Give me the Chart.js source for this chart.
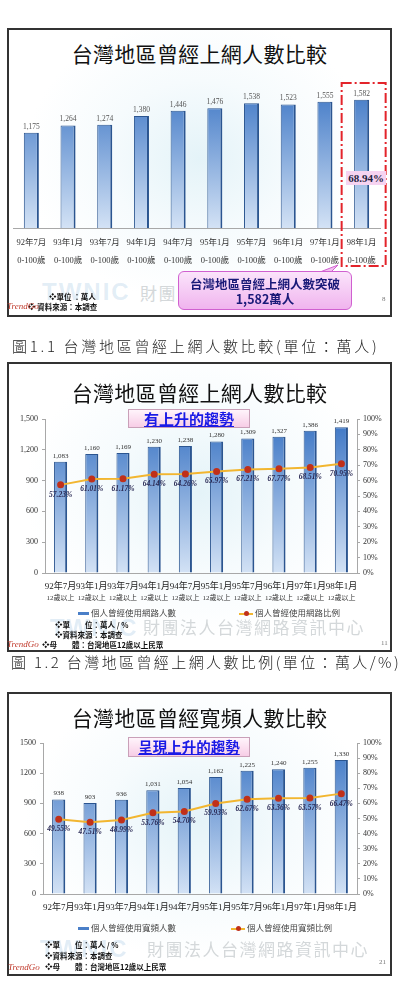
<!DOCTYPE html>
<html>
<head>
<meta charset="utf-8">
<script src="https://cdn.jsdelivr.net/npm/chart.js@4.4.0/dist/chart.umd.min.js"></script>
<style>
body { margin: 0; width: 399px; height: 986px; position: relative; background: #fff; overflow: hidden;
       font-family: 'Noto Sans CJK TC', sans-serif; }
.abs { position: absolute; white-space: nowrap; }
.slide { position: absolute; left: 7px; width: 385px; box-sizing: border-box; border: 2px solid #333;
         background: radial-gradient(ellipse at 50% 45%, #e4f3f8 0%, #f6fbfd 35%, #fff 65%); }
.title { position: absolute; left: 7px; width: 385px; text-align: center; font-size: 21px; line-height: 26px;
         color: #111; letter-spacing: 0.3px; }
.caption { position: absolute; font-size: 15px; line-height: 20px; color: #222; font-weight: 300; white-space: nowrap; }
.note { position: absolute; font-size: 7.5px; font-weight: bold; color: #111; line-height: 10px; white-space: pre; }
.logo { position: absolute; font-family: 'Liberation Serif', serif; font-style: italic; font-size: 9px; color: #c0392b; }
.page { position: absolute; font-family: 'Liberation Serif', serif; font-size: 7px; color: #777; }
.wm { position: absolute; font-size: 17px; color: #d4d8da; letter-spacing: 1.5px; white-space: nowrap; }
.wmlogo { position: absolute; font-family: 'Liberation Sans', sans-serif; font-weight: bold; font-size: 24px;
          color: rgba(110, 165, 210, 0.2); letter-spacing: 2px; }
.trend { position: absolute; left: 128px; width: 122px; box-sizing: border-box; border: 1px solid #c9a0b8;
         background: linear-gradient(#fff4fb, #f7cde6); text-align: center; color: #1a1ae6; font-weight: bold;
         text-decoration: underline; }
.legend { position: absolute; font-size: 8.5px; color: #444; line-height: 10px; white-space: nowrap; }
.lg-bar { display: inline-block; width: 11px; height: 3px; background: #4a7fc8; vertical-align: middle; margin-right: 2px; }
.lg-line { display: inline-block; position: relative; width: 14px; height: 2px; background: #f2b630; vertical-align: middle; margin-right: 2px; }
.lg-line:after { content: ''; position: absolute; left: 5px; top: -1.5px; width: 5px; height: 5px; border-radius: 50%; background: #c0301a; }
canvas { position: absolute; }
</style>
</head>
<body>

<!-- slide 1 -->
<div class="slide" style="top:28px;height:289px;"></div>
<div class="wmlogo" style="left:42px;top:278px;">TWNIC</div>
<div class="wm" style="left:140px;top:280px;">財團</div>
<div class="title" style="top:40px;">台灣地區曾經上網人數比較</div>
<canvas id="chart1" width="382" height="200" style="left:8px;top:75px;"></canvas>
<div class="abs" style="left:346px;top:171px;width:40px;height:14px;background:#f6d3f1;font:bold 11px 'Liberation Serif',serif;color:#1e1e40;text-align:center;line-height:14px;">68.94%</div>
<svg class="abs" style="left:170px;top:258px;" width="190" height="60">
  <path d="M150 14 L168 7 L156 19 Z" fill="#f2c0ef" stroke="#d060d0" stroke-width="1"/>
</svg>
<div class="abs" style="left:178px;top:271px;width:174px;height:39px;box-sizing:border-box;border:1px solid #d060d0;border-radius:6px;background:linear-gradient(#fbe4fb,#f0b4ee);text-align:center;color:#1a1a78;font-weight:bold;font-size:12.5px;line-height:15px;padding-top:4px;">台灣地區曾經上網人數突破<br>1,582萬人</div>
<div class="note" style="left:49px;top:292px;">❖單位 ：萬人</div>
<div class="note" style="left:28px;top:302px;">❖ 資料來源：本調查</div>
<div class="logo" style="left:7px;top:301px;">TrendGo</div>
<div class="page" style="left:382px;top:295px;">8</div>

<div class="caption" style="left:12px;top:336px;letter-spacing:2.7px;">圖1.1 台灣地區曾經上網人數比較(單位：萬人)</div>

<!-- slide 2 -->
<div class="slide" style="top:362px;height:290px;"></div>
<div class="wmlogo" style="left:50px;top:614px;">TWNIC</div>
<div class="wm" style="left:143px;top:614px;">財團法人台灣網路資訊中心</div>
<div class="title" style="top:379px;">台灣地區曾經上網人數比較</div>
<div class="trend" style="top:409px;height:19px;font-size:15px;line-height:17px;">有上升的趨勢</div>
<canvas id="chart2" width="382" height="200" style="left:8px;top:405px;"></canvas>
<div class="legend" style="left:78px;top:607px;"><span class="lg-bar"></span>個人曾經使用網路人數</div>
<div class="legend" style="left:239px;top:607px;"><span class="lg-line"></span>個人曾經使用網路比例</div>
<div class="note" style="left:55px;top:620px;">❖單　　位：萬人 / %</div>
<div class="note" style="left:55px;top:630px;">❖資料來源：本調查</div>
<div class="note" style="left:42px;top:640px;">❖母　　體：台灣地區12歲以上民眾</div>
<div class="logo" style="left:7px;top:639px;">TrendGo</div>
<div class="page" style="left:381px;top:639px;">11</div>

<div class="caption" style="left:11px;top:652px;letter-spacing:2.4px;">圖 1.2 台灣地區曾經上網人數比例(單位：萬人/%)</div>

<!-- slide 3 -->
<div class="slide" style="top:692px;height:284px;"></div>
<div class="wmlogo" style="left:40px;top:935px;">TWNIC</div>
<div class="wm" style="left:147px;top:936px;">財團法人台灣網路資訊中心</div>
<div class="title" style="top:704px;">台灣地區曾經寬頻人數比較</div>
<div class="trend" style="top:737px;height:20px;font-size:14.5px;line-height:18px;">呈現上升的趨勢</div>
<canvas id="chart3" width="382" height="190" style="left:8px;top:730px;"></canvas>
<div class="legend" style="left:78px;top:922px;"><span class="lg-bar"></span>個人曾經使用寬頻人數</div>
<div class="legend" style="left:231px;top:922px;"><span class="lg-line"></span>個人曾經使用寬頻比例</div>
<div class="note" style="left:45px;top:940px;">❖單　　位：萬人 / %</div>
<div class="note" style="left:45px;top:951px;">❖資料來源：本調查</div>
<div class="note" style="left:45px;top:962px;">❖母　　體：台灣地區12歲以上民眾</div>
<div class="logo" style="left:8px;top:962px;">TrendGo</div>
<div class="page" style="left:379px;top:958px;">21</div>

<script>
// periods shown on every chart
const periods = ['92年7月', '93年1月', '93年7月', '94年1月', '94年7月', '95年1月', '95年7月', '96年1月', '97年1月', '98年1月'];
const ageAll = '0-100歲';
const age12 = '12歲以上';

// chart 1: people who have ever used the internet (0-100), 萬人
const usersAll = [1175, 1264, 1274, 1380, 1446, 1476, 1538, 1523, 1555, 1582];

// chart 2: 12+ internet users (萬人) and rate (%)
const users12 = [1083, 1160, 1169, 1230, 1238, 1280, 1309, 1327, 1386, 1419];
const usersRate12 = [57.23, 61.01, 61.17, 64.14, 64.26, 65.97, 67.21, 67.77, 68.51, 70.95];

// chart 3: broadband users (萬人) and rate (%)
const broadband = [938, 903, 936, 1031, 1054, 1162, 1225, 1240, 1255, 1330];
const broadbandRate = [49.55, 47.51, 48.99, 53.76, 54.70, 59.93, 62.67, 63.36, 63.57, 66.47];

// axis ranges
const countMax = 1500, countStep = 300;
const pctMax = 100, pctStep = 10;

const serif = "'Liberation Serif', 'Noto Sans CJK TC', serif";
Chart.defaults.font.family = serif;
Chart.defaults.color = '#333';

function barFill(top, bottom) {
    return (ctx) => {
        const area = ctx.chart.chartArea;
        if (!area) return top;
        const g = ctx.chart.ctx.createLinearGradient(0, area.top, 0, area.bottom);
        g.addColorStop(0, top);
        g.addColorStop(1, bottom);
        return g;
    };
}

// draws number labels next to the points of a dataset
function pointLabels(items) {
    return {
        id: 'pointLabels',
        afterDatasetsDraw(chart) {
            const c = chart.ctx;
            items.forEach(item => {
                const meta = chart.getDatasetMeta(item.dataset);
                const data = chart.data.datasets[item.dataset].data;
                c.save();
                c.font = item.font;
                c.fillStyle = item.color;
                c.textAlign = 'center';
                c.textBaseline = 'middle';
                meta.data.forEach((el, i) => {
                    c.fillText(item.format(data[i]), el.x, el.y + item.dy);
                });
                c.restore();
            });
        }
    };
}

// second row under the category labels
function subLabels(text, font, dy) {
    return {
        id: 'subLabels',
        afterDraw(chart) {
            const x = chart.scales.x;
            const c = chart.ctx;
            c.save();
            c.font = font;
            c.fillStyle = '#333';
            c.textAlign = 'center';
            c.textBaseline = 'middle';
            periods.forEach((p, i) => c.fillText(text, x.getPixelForValue(i), x.top + dy));
            c.restore();
        }
    };
}

const fmtComma = v => v.toLocaleString('en-US');
const fmtPct = v => v.toFixed(2) + '%';

const barStyle = {
    backgroundColor: barFill('#3a74c4', '#d3e2f5'),
    borderColor: '#2b5590',
    borderWidth: { left: 1, right: 2, top: 1, bottom: 0 },
    borderSkipped: 'bottom',
    barPercentage: 0.42,
    categoryPercentage: 1
};

const lineStyle = {
    type: 'line',
    yAxisID: 'y1',
    borderColor: '#f2b630',
    borderWidth: 2,
    pointRadius: 2.5,
    pointBackgroundColor: '#c0301a',
    pointBorderColor: '#c0301a',
    tension: 0,
    order: 0
};

// chart 1 -------------------------------------------------------------
const highlightBox = {
    id: 'highlightBox',
    afterDraw(chart) {
        const el = chart.getDatasetMeta(0).data[periods.length - 1];
        const c = chart.ctx;
        c.save();
        c.strokeStyle = '#e3242b';
        c.lineWidth = 2;
        c.setLineDash([10, 3, 2, 3]);
        c.strokeRect(el.x - 20, 8, 44, 183);
        c.restore();
    }
};

new Chart(document.getElementById('chart1'), {
    type: 'bar',
    data: {
        labels: periods.map(p => [p, ageAll]),
        datasets: [Object.assign({ data: usersAll }, barStyle, { barPercentage: 0.41 })]
    },
    options: {
        responsive: false,
        animation: false,
        layout: { padding: { left: 5, right: 10, top: 7, bottom: 0 } },
        plugins: { legend: { display: false }, tooltip: { enabled: false } },
        scales: {
            x: {
                grid: { display: false, drawTicks: false },
                border: { display: true, color: '#a8a8a8', width: 1 },
                ticks: { padding: 6, maxRotation: 0, autoSkip: false, color: '#333',
                         font: { size: 8.5, lineHeight: 2.1 } },
                afterFit: s => { s.height = 47; }
            },
            y: { display: false, min: 0, max: 1800 }
        }
    },
    plugins: [pointLabels([{ dataset: 0, dy: -6, font: '7.5px ' + serif, color: '#555', format: fmtComma }]), highlightBox]
});

// chart 2 / chart 3 share the same combo layout ----------------------
function comboChart(id, bars, rates, tickFmt, leftWidth, xHeight, topPad, labelPad, extraPlugins) {
    return new Chart(document.getElementById(id), {
        type: 'bar',
        data: {
            labels: periods,
            datasets: [
                Object.assign({ data: rates }, lineStyle),
                Object.assign({ data: bars, yAxisID: 'y', order: 1 }, barStyle)
            ]
        },
        options: {
            responsive: false,
            animation: false,
            layout: { padding: { left: 0, right: 0, top: topPad, bottom: 0 } },
            plugins: { legend: { display: false }, tooltip: { enabled: false } },
            scales: {
                x: {
                    grid: { display: false, drawTicks: false },
                    border: { display: true, color: '#a8a8a8' },
                    ticks: { padding: labelPad, maxRotation: 0, autoSkip: false, color: '#222', font: { size: 9 } },
                    afterFit: s => { s.height = xHeight; }
                },
                y: {
                    position: 'left', min: 0, max: countMax,
                    ticks: { stepSize: countStep, callback: tickFmt, padding: 4, color: '#333', font: { size: 8 } },
                    grid: { drawOnChartArea: false, tickLength: 3, color: '#a8a8a8' },
                    border: { display: true, color: '#a8a8a8' },
                    afterFit: s => { s.width = leftWidth; }
                },
                y1: {
                    position: 'right', min: 0, max: pctMax,
                    ticks: { stepSize: pctStep, callback: v => v + '%', padding: 3, color: '#333', font: { size: 8 } },
                    grid: { drawOnChartArea: false, tickLength: 3, color: '#a8a8a8' },
                    border: { display: true, color: '#a8a8a8' },
                    afterFit: s => { s.width = 33; }
                }
            }
        },
        plugins: [pointLabels([
            { dataset: 1, dy: -6, font: '7px ' + serif, color: '#333', format: fmtComma },
            { dataset: 0, dy: 10, font: 'italic bold 7.5px ' + serif, color: '#2a2a55', format: fmtPct }
        ])].concat(extraPlugins)
    });
}

comboChart('chart2', users12, usersRate12, v => fmtComma(v), 37, 32, 14, 8,
    [subLabels(age12, '7px ' + serif, 25)]);
comboChart('chart3', broadband, broadbandRate, v => String(v), 35, 26, 13, 8, []);
</script>
</body>
</html>
